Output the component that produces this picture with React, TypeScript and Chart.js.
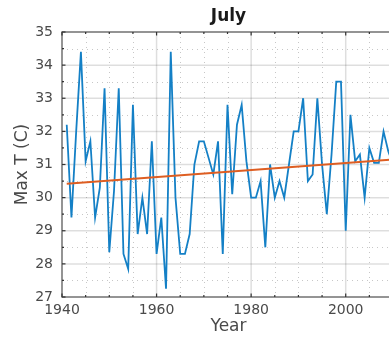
import React, { useEffect, useRef } from "react";
import { Chart, registerables } from "chart.js";

Chart.register(...registerables);

const years: number[] = [
  1941, 1942, 1943, 1944, 1945, 1946, 1947, 1948, 1949, 1950,
  1951, 1952, 1953, 1954, 1955, 1956, 1957, 1958, 1959, 1960,
  1961, 1962, 1963, 1964, 1965, 1966, 1967, 1968, 1969, 1970,
  1971, 1972, 1973, 1974, 1975, 1976, 1977, 1978, 1979, 1980,
  1981, 1982, 1983, 1984, 1985, 1986, 1987, 1988, 1989, 1990,
  1991, 1992, 1993, 1994, 1995, 1996, 1997, 1998, 1999, 2000,
  2001, 2002, 2003, 2004, 2005, 2006, 2007, 2008, 2009, 2010,
];

const maxTemp: number[] = [
  32.2, 29.4, 32.0, 34.4, 31.1, 31.7, 29.4, 30.3, 33.3, 28.35,
  30.2, 33.3, 28.3, 27.85, 32.8, 28.9, 30.0, 28.9, 31.7, 28.3,
  29.4, 27.25, 34.4, 30.0, 28.3, 28.3, 28.9, 31.0, 31.7, 31.7,
  31.2, 30.7, 31.7, 28.3, 32.8, 30.1, 32.2, 32.8, 31.1, 30.0,
  30.0, 30.5, 28.5, 31.0, 30.0, 30.5, 30.0, 31.0, 32.0, 32.0,
  33.0, 30.5, 30.7, 33.0, 31.0, 29.5, 31.3, 33.5, 33.5, 29.0,
  32.5, 31.1, 31.3, 30.0, 31.5, 31.05, 31.05, 32.0, 31.4, 31.0,
];

const trendYears: number[] = [1941, 2010];
const trendValues: number[] = [30.42, 31.15];

const xMajorTicks: number[] = [1940, 1960, 1980, 2000];
const xMinorTicks: number[] = [1940, 1945, 1950, 1955, 1960, 1965, 1970, 1975, 1980, 1985, 1990, 1995, 2000, 2005, 2010];
const yMajorTicks: number[] = [27, 28, 29, 30, 31, 32, 33, 34, 35];
const yMinorTicks: number[] = [27, 27.5, 28, 28.5, 29, 29.5, 30, 30.5, 31, 31.5, 32, 32.5, 33, 33.5, 34, 34.5, 35];

const titleText = "July";
const xTitle = "Year";
const yTitle = "Max T (C)";

const FONT = "'DejaVu Sans', 'Liberation Sans', sans-serif";

const matlabPlugin = {
  id: "matlabFrame",
  beforeDatasetsDraw(chart: any) {
    const { ctx, chartArea, scales } = chart;
    const { left, right, top, bottom } = chartArea;
    const xs = scales.x;
    const ys = scales.y;
    ctx.save();
    ctx.strokeStyle = "rgba(0,0,0,0.22)";
    ctx.lineWidth = 1;
    ctx.setLineDash([1, 4]);
    yMinorTicks.forEach((v) => {
      if (yMajorTicks.includes(v)) return;
      const y = Math.round(ys.getPixelForValue(v)) + 0.5;
      ctx.beginPath();
      ctx.moveTo(left, y);
      ctx.lineTo(right, y);
      ctx.stroke();
    });
    xMinorTicks.forEach((v) => {
      if (xMajorTicks.includes(v)) return;
      const x = Math.round(xs.getPixelForValue(v)) + 0.5;
      ctx.beginPath();
      ctx.moveTo(x, top);
      ctx.lineTo(x, bottom);
      ctx.stroke();
    });
    ctx.setLineDash([]);
    ctx.strokeStyle = "rgba(0,0,0,0.13)";
    ctx.lineWidth = 1.5;
    yMajorTicks.forEach((v) => {
      const y = ys.getPixelForValue(v);
      ctx.beginPath();
      ctx.moveTo(left, y);
      ctx.lineTo(right, y);
      ctx.stroke();
    });
    xMajorTicks.forEach((v) => {
      const x = xs.getPixelForValue(v);
      ctx.beginPath();
      ctx.moveTo(x, top);
      ctx.lineTo(x, bottom);
      ctx.stroke();
    });
    ctx.restore();
  },
  afterDraw(chart: any) {
    const { ctx, chartArea, scales } = chart;
    const { left, right, top, bottom } = chartArea;
    const xs = scales.x;
    const ys = scales.y;
    ctx.save();
    ctx.strokeStyle = "#7a7a7a";
    ctx.lineWidth = 1.5;
    ctx.strokeRect(left, top, right - left, bottom - top);
    ctx.strokeStyle = "#333";
    ctx.lineWidth = 1.2;
    xMinorTicks.forEach((v) => {
      const x = xs.getPixelForValue(v);
      const len = xMajorTicks.includes(v) ? 3.5 : 2;
      ctx.beginPath();
      ctx.moveTo(x, bottom);
      ctx.lineTo(x, bottom - len);
      ctx.moveTo(x, top);
      ctx.lineTo(x, top + len);
      ctx.stroke();
    });
    yMinorTicks.forEach((v) => {
      const y = ys.getPixelForValue(v);
      const len = yMajorTicks.includes(v) ? 3.5 : 2;
      ctx.beginPath();
      ctx.moveTo(left, y);
      ctx.lineTo(left + len, y);
      ctx.stroke();
    });
    ctx.fillStyle = "#1a1a1a";
    ctx.textAlign = "center";
    ctx.textBaseline = "alphabetic";
    ctx.font = `bold 17px ${FONT}`;
    ctx.fillText(titleText, (left + right) / 2 + 1, 21);
    ctx.fillStyle = "#4a4a4a";
    ctx.font = `17px ${FONT}`;
    ctx.fillText(xTitle, (left + right) / 2 + 1, 331);
    ctx.translate(22.5, (top + bottom) / 2);
    ctx.rotate(-Math.PI / 2);
    ctx.textBaseline = "middle";
    ctx.fillText(yTitle, 0, 0);
    ctx.restore();
  },
};

export default function App() {
  const ref = useRef<HTMLCanvasElement | null>(null);
  useEffect(() => {
    if (!ref.current) return;
    const chart = new Chart(ref.current, {
      type: "line",
      data: {
        datasets: [
          {
            data: years.map((y, i) => ({ x: y, y: maxTemp[i] })),
            borderColor: "#1480c6",
            borderWidth: 1.8,
            pointRadius: 0,
            tension: 0,
            order: 2,
          },
          {
            data: trendYears.map((y, i) => ({ x: y, y: trendValues[i] })),
            borderColor: "#DE5E22",
            borderWidth: 2,
            pointRadius: 0,
            order: 1,
          },
        ],
      },
      options: {
        responsive: false,
        animation: false,
        devicePixelRatio: 1,
        layout: { padding: { top: 32, right: 7, bottom: 0, left: 0 } },
        plugins: { legend: { display: false }, tooltip: { enabled: false }, title: { display: false } },
        scales: {
          x: {
            type: "linear",
            min: 1940,
            max: 2010,
            grid: { display: false, drawTicks: false },
            border: { display: false },
            afterBuildTicks: (scale: any) => {
              scale.ticks = xMinorTicks.map((v) => ({ value: v }));
            },
            afterFit: (scale: any) => {
              scale.height = 43;
            },
            ticks: {
              autoSkip: false,
              maxRotation: 0,
              padding: 5,
              color: "#4a4a4a",
              font: { family: FONT, size: 14 },
              callback: (v: any) => (xMajorTicks.includes(Number(v)) ? String(v) : ""),
            },
          },
          y: {
            type: "linear",
            min: 27,
            max: 35,
            grid: { display: false, drawTicks: false },
            border: { display: false },
            afterBuildTicks: (scale: any) => {
              scale.ticks = yMinorTicks.map((v) => ({ value: v }));
            },
            afterFit: (scale: any) => {
              scale.width = 62;
            },
            ticks: {
              autoSkip: false,
              padding: 9,
              color: "#4a4a4a",
              font: { family: FONT, size: 14 },
              callback: (v: any) => (yMajorTicks.includes(Number(v)) ? String(v) : ""),
            },
          },
        },
      },
      plugins: [matlabPlugin],
    } as any);
    return () => chart.destroy();
  }, []);
  return (
    <div style={{ position: "fixed", left: 0, top: 0, width: 389, height: 340, overflow: "hidden", background: "#fff" }}>
      <canvas ref={ref} width={400} height={340} style={{ width: 400, height: 340, display: "block" }} />
    </div>
  );
}
